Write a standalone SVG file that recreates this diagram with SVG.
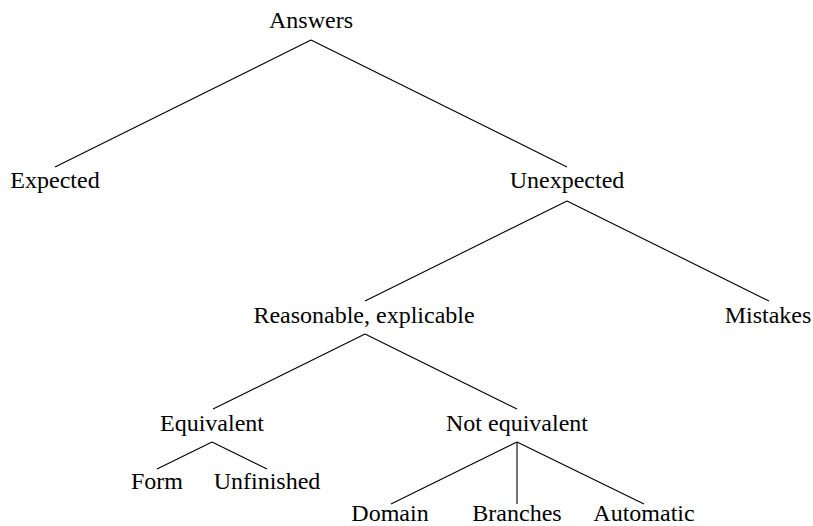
<svg xmlns="http://www.w3.org/2000/svg" width="813" height="526" viewBox="0 0 813 526">
<style>
text{font-family:"Liberation Serif","Times New Roman",serif;font-size:24px;fill:#000;text-anchor:middle}
.e line{stroke:#000;stroke-width:1.1}
</style>
<rect width="813" height="526" fill="#fff"/>
<g class="e" id="connectors">
<line x1="311" y1="40" x2="55" y2="167"/>
<line x1="311" y1="40" x2="567" y2="167"/>
<line x1="567" y1="201" x2="365" y2="301"/>
<line x1="567" y1="201" x2="769" y2="301"/>
<line x1="365" y1="334" x2="213" y2="409"/>
<line x1="365" y1="334" x2="517" y2="409"/>
<line x1="212" y1="442" x2="157" y2="469"/>
<line x1="212" y1="442" x2="267" y2="469"/>
<line x1="517" y1="442" x2="391" y2="504"/>
<line x1="517" y1="442" x2="517" y2="504"/>
<line x1="517" y1="442" x2="644" y2="504"/>
</g>
<g id="answers"><text x="311" y="28">Answers</text></g>
<g id="expected"><text x="55" y="188">Expected</text></g>
<g id="unexpected"><text x="567" y="188">Unexpected</text></g>
<g id="reasonable"><text x="364" y="323">Reasonable, explicable</text></g>
<g id="mistakes"><text x="768" y="323">Mistakes</text></g>
<g id="equivalent"><text x="212" y="431">Equivalent</text></g>
<g id="notequivalent"><text x="517" y="431">Not equivalent</text></g>
<g id="form"><text x="157" y="489">Form</text></g>
<g id="unfinished"><text x="267" y="489">Unfinished</text></g>
<g id="domain"><text x="390" y="521">Domain</text></g>
<g id="branches"><text x="517" y="521">Branches</text></g>
<g id="automatic"><text x="644" y="521">Automatic</text></g>
</svg>
